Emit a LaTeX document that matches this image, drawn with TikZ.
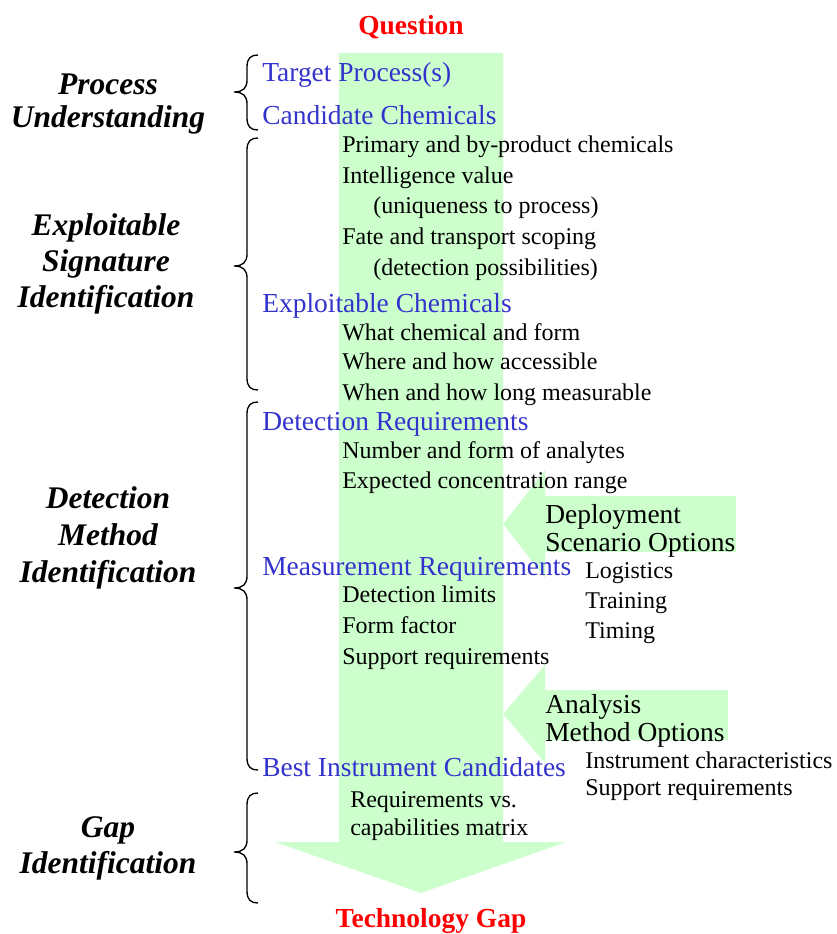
\documentclass[tikz,border=0pt]{standalone}
\usepackage{fontspec}
\setmainfont{Liberation Serif}
\definecolor{flowgreen}{RGB}{204,255,204}
\definecolor{stageblue}{RGB}{51,51,204}
\definecolor{endred}{RGB}{255,0,0}

% left curly brace: top end, tip and bottom end (y values)
\newcommand\sidebrace[3]{%
  \draw[brace line] (258,#1) .. controls (251,#1) and (247,#1+3) .. (247,#1+12)
    -- (247,#2-12) .. controls (247,#2-4) and (243,#2) .. (234,#2)
    .. controls (243,#2) and (247,#2+4) .. (247,#2+12)
    -- (247,#3-12) .. controls (247,#3-3) and (251,#3) .. (258,#3);}

\begin{document}
\begin{tikzpicture}[x=0.75pt,y=-0.75pt,
  flow/.style={fill=flowgreen,draw=none},
  brace line/.style={line width=1pt,black},
  endpoint/.style={inner sep=0,anchor=base,text=endred,font=\fontsize{20.6pt}{24pt}\selectfont\bfseries},
  stage/.style={inner sep=0,anchor=base west,text=stageblue,font=\fontsize{20.6pt}{24pt}\selectfont},
  item/.style={inner sep=0,anchor=base west,font=\fontsize{18pt}{21pt}\selectfont},
  option/.style={inner sep=0,anchor=base west,font=\fontsize{20.6pt}{24pt}\selectfont},
  phase/.style={inner sep=0,anchor=base,font=\fontsize{23.6pt}{28pt}\selectfont\bfseries\itshape}]
\useasboundingbox (0,0) rectangle (836,934);

% main downward flow arrow
\fill[flow] (339,53) -- (503,53) -- (503,842) -- (566,842) -- (421,893)
  -- (275,842) -- (339,842) -- cycle;
% side inputs pointing into the flow
\fill[flow] (736,496) -- (545,496) -- (545,470) -- (503,524) -- (545,578)
  -- (545,552) -- (736,552) -- cycle;
\fill[flow] (728,690) -- (545,690) -- (545,665) -- (503,714) -- (545,763)
  -- (545,740) -- (728,740) -- cycle;

% braces
\sidebrace{55}{92}{130}
\sidebrace{138}{266}{390}
\sidebrace{402}{588}{770}
\sidebrace{793}{852}{903}

% phase labels
\node[phase] (p1a) at (108,95) {Process};
\node[phase] (p1b) at (108,128) {Understanding};
\node[phase] (p2a) at (106,235) {Exploitable};
\node[phase] (p2b) at (106,271) {Signature};
\node[phase] (p2c) at (106,307) {Identification};
\node[phase] (p3a) at (108,508) {Detection};
\node[phase] (p3b) at (108,545) {Method};
\node[phase] (p3c) at (108,582) {Identification};
\node[phase] (p4a) at (108,837) {Gap};
\node[phase] (p4b) at (108,873) {Identification};

% start and end
\node[endpoint] (question) at (411,35) {Question};
\node[endpoint] (gap) at (431,927) {Technology Gap};

% stages and their items
\node[stage] (target) at (262,82) {Target Process(s)};
\node[stage] (cand) at (262,125) {Candidate Chemicals};
\node[item] (c1) at (342,153) {Primary and by-product chemicals};
\node[item] (c2) at (342,184) {Intelligence value};
\node[item] (c3) at (373,214) {(uniqueness to process)};
\node[item] (c4) at (342,244) {Fate and transport scoping};
\node[item] (c5) at (373,275) {(detection possibilities)};
\node[stage] (expl) at (262,312) {Exploitable Chemicals};
\node[item] (e1) at (342,340) {What chemical and form};
\node[item] (e2) at (342,369) {Where and how accessible};
\node[item] (e3) at (342,400) {When and how long measurable};
\node[stage] (detreq) at (262,430) {Detection Requirements};
\node[item] (d1) at (342,458) {Number and form of analytes};
\node[item] (d2) at (342,488) {Expected concentration range};
\node[stage] (measreq) at (262,575) {Measurement Requirements};
\node[item] (m1) at (342,602) {Detection limits};
\node[item] (m2) at (342,633) {Form factor};
\node[item] (m3) at (342,664) {Support requirements};
\node[stage] (best) at (262,776) {Best Instrument Candidates};
\node[item] (b1) at (350,807) {Requirements vs.};
\node[item] (b2) at (350,835) {capabilities matrix};

% side inputs
\node[option] (dep1) at (545,523) {Deployment};
\node[option] (dep2) at (545,551) {Scenario Options};
\node[item] (dl1) at (585,578) {Logistics};
\node[item] (dl2) at (585,608) {Training};
\node[item] (dl3) at (585,638) {Timing};
\node[option] (an1) at (545,713) {Analysis};
\node[option] (an2) at (545,741) {Method Options};
\node[item] (al1) at (585,768) {Instrument characteristics};
\node[item] (al2) at (585,795) {Support requirements};
\end{tikzpicture}
\end{document}
